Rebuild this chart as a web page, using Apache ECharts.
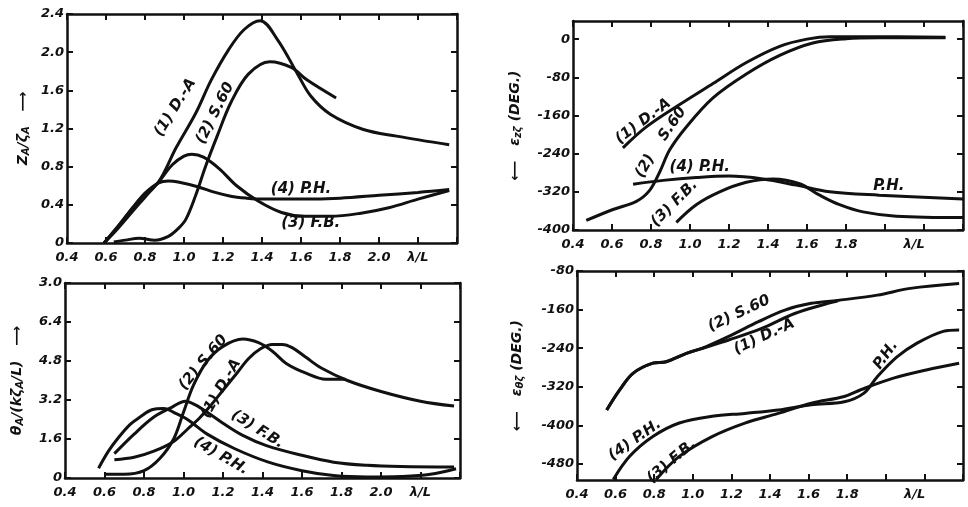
<!DOCTYPE html>
<html>
<head>
<meta charset="utf-8">
<script src="https://cdn.jsdelivr.net/npm/echarts@6/dist/echarts.min.js"></script>
<style>
  html, body { margin: 0; background: #fff; }
  #chart { width: 968px; height: 507px; }
</style>
</head>
<body>
<div id="chart"></div>
<script>
// ---- axis ticks / labels ----
const xTicks = [0.4, 0.6, 0.8, 1.0, 1.2, 1.4, 1.6, 1.8, 2.0, 2.2, 2.4];
const xLabelValsLeft = [0.4, 0.6, 0.8, 1.0, 1.2, 1.4, 1.6, 1.8, 2.0, 2.2];
const xLabelsLeft = ['0.4', '0.6', '0.8', '1.0', '1.2', '1.4', '1.6', '1.8', '2.0', 'λ/L'];
const xLabelValsRight = [0.4, 0.6, 0.8, 1.0, 1.2, 1.4, 1.6, 1.8, 2.15];
const xLabelsRight = ['0.4', '0.6', '0.8', '1.0', '1.2', '1.4', '1.6', '1.8', 'λ/L'];

const zaTicks = [0, 0.4, 0.8, 1.2, 1.6, 2.0, 2.4];
const zaLabels = ['0', '0.4', '0.8', '1.2', '1.6', '2.0', '2.4'];
const ezTicks = [0, -80, -160, -240, -320, -400];
const ezLabels = ['0', '-80', '-160', '-240', '-320', '-400'];
const thTicks = [0, 1.6, 3.2, 4.8, 6.4, 8.0];
const thLabels = ['0', '1.6', '3.2', '4.8', '6.4', '3.0'];
const etTicks = [-80, -160, -240, -320, -400, -480];
const etLabels = ['-80', '-160', '-240', '-320', '-400', '-480'];

// ---- panel 1 : Z_A / zeta_A ----
const za_DA = [[0.59,0],[0.66,0.17],[0.74,0.38],[0.8,0.52],[0.87,0.64],[0.96,1.0],[1.06,1.36],[1.14,1.71],[1.23,2.03],[1.31,2.24],[1.39,2.33],[1.48,2.13],[1.58,1.78],[1.65,1.54],[1.75,1.35],[1.92,1.19],[2.09,1.12],[2.36,1.03]];
const za_S60 = [[0.64,0.01],[0.7,0.03],[0.77,0.05],[0.85,0.03],[0.92,0.07],[0.97,0.15],[1.01,0.25],[1.06,0.5],[1.11,0.8],[1.17,1.12],[1.24,1.47],[1.33,1.77],[1.44,1.9],[1.55,1.84],[1.63,1.71],[1.78,1.52]];
const za_FB = [[0.59,0],[0.66,0.15],[0.74,0.34],[0.8,0.48],[0.87,0.64],[0.94,0.82],[1.0,0.91],[1.04,0.93],[1.1,0.9],[1.18,0.78],[1.27,0.6],[1.38,0.44],[1.5,0.32],[1.62,0.28],[1.75,0.28],[1.9,0.31],[2.05,0.37],[2.2,0.46],[2.36,0.55]];
const za_PH = [[0.59,0],[0.66,0.17],[0.74,0.37],[0.8,0.52],[0.87,0.63],[0.92,0.65],[0.97,0.64],[1.07,0.59],[1.16,0.53],[1.24,0.49],[1.32,0.47],[1.4,0.46],[1.6,0.46],[1.8,0.47],[2.0,0.5],[2.2,0.53],[2.36,0.56]];

// ---- panel 2 : eps_z zeta (deg) ----
const ez_DA = [[0.656,-228],[0.776,-184],[0.947,-137],[1.118,-93],[1.289,-49],[1.46,-15],[1.6,0],[1.72,5],[1.9,5],[2.31,4]];
const ez_S60 = [[0.468,-380],[0.605,-357],[0.725,-340],[0.793,-317],[0.844,-279],[0.896,-232],[0.981,-184],[1.118,-123],[1.289,-73],[1.46,-34],[1.63,-8],[1.8,1],[1.97,3],[2.31,3]];
const ez_PH = [[0.708,-304],[0.862,-296],[1.032,-290],[1.2,-287],[1.374,-293],[1.545,-306],[1.716,-320],[1.97,-327],[2.4,-335]];
const ez_FB = [[0.93,-384],[1.032,-347],[1.152,-320],[1.289,-300],[1.426,-293],[1.562,-303],[1.665,-327],[1.767,-347],[1.887,-362],[2.058,-371],[2.4,-374]];

// ---- panel 3 : theta_A / (k zeta_A / L) ----
const th_DA = [[0.65,0.75],[0.75,0.85],[0.85,1.1],[0.95,1.5],[1.02,2.0],[1.08,2.45],[1.13,2.9],[1.2,3.6],[1.27,4.3],[1.33,4.9],[1.39,5.3],[1.45,5.48],[1.5,5.48],[1.55,5.35],[1.62,4.95],[1.7,4.5],[1.83,4.0],[2.0,3.55],[2.2,3.15],[2.37,2.95]];
const th_S60 = [[0.6,0.15],[0.7,0.15],[0.8,0.3],[0.88,0.8],[0.95,1.6],[1.0,2.7],[1.05,3.8],[1.12,4.8],[1.2,5.4],[1.3,5.7],[1.38,5.55],[1.45,5.2],[1.52,4.7],[1.62,4.3],[1.72,4.05],[1.82,4.05]];
const th_FB = [[0.65,1.0],[0.75,1.8],[0.85,2.5],[0.94,2.9],[1.01,3.15],[1.06,3.0],[1.12,2.7],[1.2,2.25],[1.3,1.75],[1.42,1.33],[1.6,0.93],[1.76,0.65],[1.93,0.52],[2.1,0.47],[2.37,0.45]];
const th_PH = [[0.57,0.4],[0.62,1.1],[0.67,1.65],[0.73,2.2],[0.78,2.5],[0.84,2.8],[0.9,2.85],[0.96,2.65],[1.02,2.4],[1.12,1.8],[1.26,1.2],[1.43,0.65],[1.6,0.3],[1.76,0.1],[1.93,0.04],[2.1,0.06],[2.25,0.15],[2.38,0.38]];

// ---- panel 4 : eps_theta zeta (deg) ----
const et_S60 = [[0.554,-368],[0.622,-326],[0.69,-292],[0.793,-271],[0.862,-268],[0.964,-251],[1.067,-237],[1.2,-213],[1.34,-185],[1.477,-161],[1.614,-147],[1.75,-141],[1.956,-130],[2.127,-116],[2.38,-106]];
const et_DA = [[0.554,-368],[0.622,-326],[0.69,-292],[0.793,-271],[0.862,-268],[0.964,-251],[1.067,-238],[1.186,-223],[1.357,-199],[1.528,-168],[1.7,-147],[1.75,-142]];
const et_PH = [[0.588,-512],[0.673,-464],[0.793,-423],[0.93,-395],[1.1,-381],[1.27,-375],[1.443,-368],[1.614,-357],[1.785,-351],[1.887,-333],[1.956,-299],[2.058,-258],[2.16,-230],[2.297,-205],[2.38,-202]];
const et_FB = [[0.81,-512],[0.93,-464],[1.1,-423],[1.27,-395],[1.443,-375],[1.614,-354],[1.785,-340],[1.87,-326],[2.04,-302],[2.21,-285],[2.38,-271]];

// curve labels: [x, y, text, rotate]
const notes1 = [[0.955,1.42,'(1) D.-A',58],[1.16,1.36,'(2) S.60',63],[1.6,0.57,'(4) P.H.',0],[1.65,0.21,'(3) F.B.',0]];
const notes2 = [[0.76,-172,'(1) D.-A',37],[0.91,-178,'S.60',55],[0.77,-266,'(2)',60],[1.05,-269,'(4) P.H.',0],[2.02,-309,'P.H.',0],[0.92,-344,'(3) F.B.',45]];
const notes3 = [[1.1,4.74,'(2) S.60',50],[1.19,3.67,'(1) D.-A',60],[1.375,2.0,'(3) F.B.',-32],[1.19,0.9,'(4) P.H.',-30]];
const notes4 = [[1.24,-168,'(2) S.60',25],[1.37,-216,'(1) D.-A',25],[2.0,-254,'P.H.',55],[0.7,-430,'(4) P.H.',35],[0.89,-474,'(3) F.B.',40]];

const ink = '#111';
const font = 'DejaVu Sans';

function lookup(vals, texts) {
    return function (v) {
        for (let i = 0; i < vals.length; i++) {
            if (Math.abs(vals[i] - v) < 1e-6) return texts[i];
        }
        return '';
    };
}

function xAxes(grid, labelVals, labels) {
    const line = { onZero: false, lineStyle: { color: ink, width: 2.5 } };
    return [
        {
            type: 'value', gridIndex: grid, position: 'bottom', min: 0.4, max: 2.4,
            axisLine: line, splitLine: { show: false },
            axisTick: { inside: true, length: 6, customValues: xTicks, lineStyle: { color: ink, width: 2 } },
            axisLabel: {
                customValues: labelVals, formatter: lookup(labelVals, labels), margin: 8,
                color: ink, fontFamily: font, fontSize: 13, fontWeight: 'bold', fontStyle: 'italic'
            }
        },
        {
            type: 'value', gridIndex: grid, position: 'top', min: 0.4, max: 2.4,
            axisLine: line, splitLine: { show: false },
            axisTick: { inside: true, length: 6, customValues: xTicks, lineStyle: { color: ink, width: 2 } },
            axisLabel: { show: false }
        }
    ];
}

function yAxes(grid, min, max, ticks, labels, name, gap) {
    const line = { onZero: false, lineStyle: { color: ink, width: 2.5 } };
    return [
        {
            type: 'value', gridIndex: grid, position: 'left', min: min, max: max,
            axisLine: line, splitLine: { show: false },
            axisTick: { inside: true, length: 6, customValues: ticks, lineStyle: { color: ink, width: 2 } },
            axisLabel: {
                customValues: ticks, formatter: lookup(ticks, labels), margin: 3,
                color: ink, fontFamily: font, fontSize: 13, fontWeight: 'bold', fontStyle: 'italic'
            },
            name: name, nameLocation: 'middle', nameRotate: 90, nameGap: gap,
            nameTextStyle: {
                color: ink, fontFamily: font, fontSize: 14, fontWeight: 'bold', fontStyle: 'italic',
                rich: {
                    b: { fontFamily: font, fontSize: 14, fontWeight: 'bold', fontStyle: 'italic', color: ink },
                    s: { fontFamily: font, fontSize: 10, fontWeight: 'bold', fontStyle: 'italic', color: ink, verticalAlign: 'bottom', padding: [6, 0, 0, 0] }
                }
            }
        },
        {
            type: 'value', gridIndex: grid, position: 'right', min: min, max: max,
            axisLine: line, splitLine: { show: false },
            axisTick: { inside: true, length: 6, customValues: ticks, lineStyle: { color: ink, width: 2 } },
            axisLabel: { show: false }
        }
    ];
}

function curve(axisIdx, data) {
    return {
        type: 'line', xAxisIndex: axisIdx * 2, yAxisIndex: axisIdx * 2, data: data,
        showSymbol: false, smooth: 0.35, silent: true,
        lineStyle: { color: ink, width: 3 }
    };
}

function noteSeries(axisIdx, notes) {
    return {
        type: 'scatter', xAxisIndex: axisIdx * 2, yAxisIndex: axisIdx * 2, silent: true,
        symbolSize: 1, itemStyle: { color: 'rgba(0,0,0,0)', opacity: 1 },
        data: notes.map(function (n) {
            return {
                value: [n[0], n[1]],
                label: {
                    show: true, position: 'inside', rotate: n[3], formatter: n[2],
                    color: ink, opacity: 1, textBorderWidth: 0, fontFamily: font, fontSize: 15,
                    fontWeight: 'bold', fontStyle: 'italic'
                }
            };
        })
    };
}

const chart = echarts.init(document.getElementById('chart'));

chart.setOption({
    animation: false,
    backgroundColor: '#fff',
    grid: [
        { left: 67, top: 14, width: 390, height: 229 },
        { left: 573, top: 21, width: 390, height: 209 },
        { left: 65, top: 283, width: 395, height: 195 },
        { left: 577, top: 271, width: 386, height: 209 }
    ],
    xAxis: [].concat(
        xAxes(0, xLabelValsLeft, xLabelsLeft),
        xAxes(1, xLabelValsRight, xLabelsRight),
        xAxes(2, xLabelValsLeft, xLabelsLeft),
        xAxes(3, xLabelValsRight, xLabelsRight)
    ),
    yAxis: [].concat(
        yAxes(0, 0, 2.4, zaTicks, zaLabels, '{b|Z}{s|A}{b|/ζ}{s|A}{b|   ⟶}', 36),
        yAxes(1, -400, 38, ezTicks, ezLabels, '{b|⟵   ε}{s|zζ}{b| (DEG.)}', 50),
        yAxes(2, 0, 8.0, thTicks, thLabels, '{b|θ}{s|A}{b|/(kζ}{s|A}{b|/L)   ⟶}', 40),
        yAxes(3, -513, -80, etTicks, etLabels, '{b|⟵   ε}{s|θζ}{b| (DEG.)}', 52)
    ),
    series: [
        curve(0, za_DA), curve(0, za_S60), curve(0, za_FB), curve(0, za_PH),
        curve(1, ez_DA), curve(1, ez_S60), curve(1, ez_PH), curve(1, ez_FB),
        curve(2, th_DA), curve(2, th_S60), curve(2, th_FB), curve(2, th_PH),
        curve(3, et_S60), curve(3, et_DA), curve(3, et_PH), curve(3, et_FB),
        noteSeries(0, notes1), noteSeries(1, notes2), noteSeries(2, notes3), noteSeries(3, notes4)
    ]
});
</script>
</body>
</html>
